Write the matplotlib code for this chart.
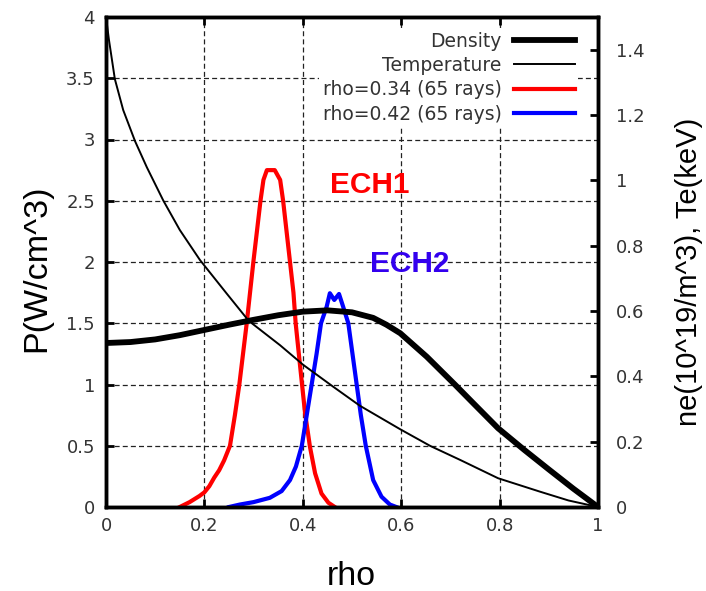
import numpy as np
import matplotlib
matplotlib.use('Agg')
import matplotlib.pyplot as plt

# density ne (10^19/m^3)
rho_ne = [0.0, 0.05, 0.1, 0.15, 0.2, 0.25, 0.3, 0.35, 0.4, 0.45, 0.5, 0.543, 0.57, 0.598,
          0.652, 0.709, 0.747, 0.797, 0.85, 0.9, 0.95, 1.0]
ne = [0.502, 0.505, 0.513, 0.526, 0.542, 0.558, 0.573, 0.587, 0.598, 0.602, 0.596, 0.579,
      0.558, 0.532, 0.460, 0.375, 0.317, 0.241, 0.175, 0.115, 0.056, 0.0]

# electron temperature Te (keV), right axis
rho_te = [0.0, 0.006, 0.018, 0.035, 0.059, 0.083, 0.1165, 0.15, 0.191, 0.245, 0.29,
          0.354, 0.401, 0.462, 0.516, 0.598, 0.659, 0.72, 0.797, 0.882, 0.94, 1.0]
te = [1.5, 1.43, 1.31, 1.215, 1.12, 1.04, 0.938, 0.848, 0.756, 0.654, 0.57,
      0.495, 0.435, 0.368, 0.31, 0.238, 0.187, 0.144, 0.088, 0.047, 0.02, 0.0]

# ECH power deposition P (W/cm^3), left axis
rho_ech1 = [0.15, 0.17, 0.19, 0.2, 0.21, 0.22, 0.23, 0.24, 0.252, 0.262, 0.271, 0.286,
            0.2995, 0.314, 0.32, 0.327, 0.343, 0.354, 0.36, 0.374, 0.381, 0.3855, 0.394,
            0.4045, 0.4146, 0.425, 0.438, 0.452, 0.465]
p_ech1 = [0.0, 0.04, 0.09, 0.12, 0.17, 0.24, 0.3, 0.38, 0.5, 0.75, 1.0, 1.5,
          2.0, 2.5, 2.67, 2.75, 2.75, 2.67, 2.5, 2.0, 1.75, 1.5, 1.17,
          0.77, 0.49, 0.275, 0.11, 0.035, 0.0]

rho_ech2 = [0.25, 0.272, 0.3, 0.333, 0.357, 0.374, 0.386, 0.398, 0.408, 0.418, 0.428,
            0.437, 0.4485, 0.455, 0.464, 0.4736, 0.482, 0.4925, 0.501, 0.5095, 0.518,
            0.528, 0.543, 0.56, 0.577, 0.59]
p_ech2 = [0.0, 0.02, 0.04, 0.075, 0.13, 0.22, 0.33, 0.5, 0.75, 1.0, 1.25,
          1.5, 1.635, 1.745, 1.69, 1.739, 1.635, 1.5, 1.25, 1.0, 0.75,
          0.5, 0.22, 0.084, 0.02, 0.0]

xticks = [0, 0.2, 0.4, 0.6, 0.8, 1]
xtick_labels = ['0', '0.2', '0.4', '0.6', '0.8', '1']
yticks = [0, 0.5, 1, 1.5, 2, 2.5, 3, 3.5, 4]
ytick_labels = ['0', '0.5', '1', '1.5', '2', '2.5', '3', '3.5', '4']
y2ticks = [0, 0.2, 0.4, 0.6, 0.8, 1.0, 1.2, 1.4]
y2tick_labels = ['0', '0.2', '0.4', '0.6', '0.8', '1', '1.2', '1.4']

plt.rcParams['font.family'] = 'DejaVu Sans'
txt_col = '#333333'

fig = plt.figure(figsize=(7.06, 5.91), dpi=100)
ax = fig.add_axes([106 / 706, 1 - 507 / 591, 492 / 706, 490 / 591])
ax2 = ax.twinx()

# power curves on left axis
l3, = ax.plot(rho_ech1, p_ech1, color='#ff0000', lw=3)
l4, = ax.plot(rho_ech2, p_ech2, color='#0000ff', lw=3)

# profiles on right axis
l1, = ax2.plot(rho_ne, ne, color='black', lw=4.2)
l2, = ax2.plot(rho_te, te, color='black', lw=1.4)

ax.set_xlim(0, 1)
ax.set_ylim(0, 4)
ax2.set_ylim(0, 1.5)

ax.set_xticks(xticks)
ax.set_xticklabels(xtick_labels)
ax.set_yticks(yticks)
ax.set_yticklabels(ytick_labels)
ax2.set_yticks(y2ticks)
ax2.set_yticklabels(y2tick_labels)

ax.tick_params(axis='x', direction='in', length=6, width=2, top=True, pad=7,
               labelsize=13, labelcolor=txt_col)
ax.tick_params(axis='y', direction='in', length=6, width=2, right=False, pad=8,
               labelsize=13, labelcolor=txt_col)
ax2.tick_params(axis='y', direction='in', length=6, width=2, pad=13,
                labelsize=13, labelcolor=txt_col)

for a in (ax, ax2):
    for s in a.spines.values():
        s.set_linewidth(2.5)

ax.grid(True, color='#222222', lw=0.9, linestyle=(0, (4, 2.5)))

ax.set_ylabel('P(W/cm^3)', va='center', family='Liberation Sans', size=24.5)
ax.yaxis.set_label_coords(-0.14, 0.488)
ax.set_xlabel('rho', va='center', family='Liberation Sans', size=24.5)
ax.xaxis.set_label_coords(0.498, -0.142)
ax2.set_ylabel('ne(10^19/m^3), Te(keV)', va='center', rotation=90,
               family='Liberation Sans', size=21)
ax2.yaxis.set_label_coords(1.185, 0.48)

ax.text(0.455, 2.63, 'ECH1', color='#ff0000', fontsize=21.5, fontweight='bold',
        family='Liberation Sans', va='center')
ax.text(0.537, 1.98, 'ECH2', color='#3300ee', fontsize=21.5, fontweight='bold',
        family='Liberation Sans', va='center')

leg = ax2.legend([l1, l2, l3, l4],
                 ['Density', 'Temperature', 'rho=0.34 (65 rays)', 'rho=0.42 (65 rays)'],
                 loc='upper right', bbox_to_anchor=(0.96, 0.978), markerfirst=False,
                 fontsize=13.5, handlelength=3.25, handletextpad=0.64, labelspacing=0.29,
                 borderpad=0.2, borderaxespad=0, frameon=True, fancybox=False,
                 framealpha=1, facecolor='white', edgecolor='none')
for t in leg.get_texts():
    t.set_color(txt_col)

fig.savefig('out.png', dpi=100)
